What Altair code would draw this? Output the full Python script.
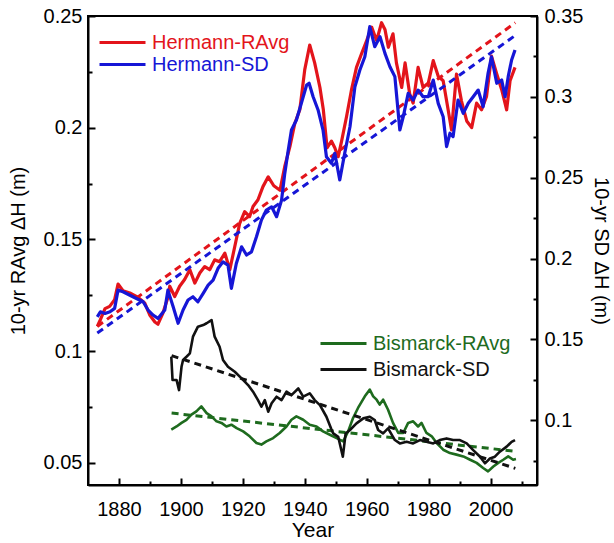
import altair as alt
import pandas as pd

FONT = "Liberation Sans"

# ---------------- data ----------------
h_ravg_year = [1873.0, 1874.0, 1875.5, 1877.0, 1878.6, 1879.7, 1881.3, 1883.5, 1886.2, 1888.3,
               1890.0, 1891.6, 1892.6, 1894.2, 1895.8, 1896.4, 1898.0, 1899.6, 1901.2, 1902.9,
               1904.5, 1906.1, 1907.7, 1909.3, 1910.9, 1912.5, 1914.2, 1915.8, 1917.4, 1919.0,
               1920.6, 1922.2, 1923.3, 1924.9, 1926.5, 1928.2, 1930.0, 1932.0, 1933.6, 1935.2,
               1936.8, 1938.4, 1940.0, 1941.6, 1943.2, 1944.9, 1946.0, 1947.2, 1948.6, 1949.7,
               1950.8, 1951.9, 1953.5, 1955.1, 1956.7, 1958.3, 1960.0, 1961.6, 1963.2, 1964.8,
               1965.9, 1967.0, 1968.5, 1969.6, 1971.3, 1972.4, 1973.9, 1975.0, 1976.6, 1978.2,
               1979.9, 1981.5, 1983.1, 1984.7, 1986.3, 1987.4, 1989.0, 1990.6, 1992.3, 1993.9,
               1995.5, 1997.1, 1998.7, 2000.3, 2002.0, 2003.6, 2005.2, 2006.3, 2007.9]
h_ravg_val = [0.111, 0.114, 0.119, 0.120, 0.123, 0.130, 0.127, 0.126, 0.124, 0.1215,
              0.116, 0.113, 0.112, 0.117, 0.124, 0.129, 0.1244, 0.129, 0.132, 0.1364,
              0.1304, 0.1349, 0.1378, 0.1364, 0.1408, 0.140, 0.1438, 0.1364, 0.1468, 0.1572,
              0.1624, 0.1602, 0.1647, 0.1677, 0.1736, 0.178, 0.174, 0.172, 0.183, 0.1915,
              0.202, 0.208, 0.226, 0.237, 0.229, 0.218, 0.208, 0.191, 0.194, 0.191,
              0.187, 0.194, 0.205, 0.217, 0.227, 0.233, 0.239, 0.245, 0.239, 0.247,
              0.244, 0.236, 0.242, 0.229, 0.218, 0.229, 0.215, 0.211, 0.227, 0.218,
              0.220, 0.230, 0.223, 0.221, 0.208, 0.199, 0.224, 0.212, 0.203, 0.200,
              0.211, 0.208, 0.214, 0.232, 0.224, 0.217, 0.208, 0.221, 0.227]

h_sd_year = [1873.0, 1874.0, 1875.5, 1877.1, 1878.6, 1879.7, 1881.3, 1884.5, 1887.8, 1889.4,
             1891.0, 1892.6, 1894.8, 1895.8, 1897.5, 1899.1, 1900.7, 1902.3, 1903.9, 1905.5,
             1907.2, 1908.8, 1910.4, 1912.0, 1913.6, 1915.2, 1916.3, 1917.9, 1919.6, 1921.2,
             1922.8, 1924.4, 1926.0, 1927.6, 1929.3, 1930.9, 1932.5, 1933.5, 1934.5, 1935.7,
             1937.3, 1938.9, 1940.6, 1941.4, 1942.7, 1944.3, 1945.9, 1947.0, 1948.6, 1949.7,
             1951.3, 1952.9, 1954.6, 1956.2, 1957.8, 1959.4, 1961.0, 1962.6, 1964.3, 1965.9,
             1967.5, 1969.1, 1970.7, 1971.8, 1973.4, 1975.0, 1976.6, 1978.2, 1979.9, 1981.5,
             1983.1, 1984.7, 1985.8, 1986.9, 1987.9, 1989.5, 1991.2, 1992.8, 1994.4, 1996.0,
             1997.6, 1999.2, 2000.3, 2002.0, 2003.6, 2004.7, 2005.7, 2006.8, 2007.9]
h_sd_val = [0.164, 0.1671, 0.1661, 0.1671, 0.1692, 0.1805, 0.1795, 0.1764, 0.1733, 0.1682,
            0.1651, 0.163, 0.1682, 0.1805, 0.1702, 0.160, 0.1682, 0.1744, 0.1764, 0.1733,
            0.1785, 0.1836, 0.1867, 0.194, 0.198, 0.196, 0.1816, 0.197, 0.2073, 0.2022,
            0.2042, 0.2135, 0.2238, 0.230, 0.232, 0.2259, 0.236, 0.252, 0.265, 0.2795,
            0.2857, 0.296, 0.3073, 0.3084, 0.3001, 0.2919, 0.2795, 0.263, 0.2589, 0.2651,
            0.2486, 0.2651, 0.2815, 0.3063, 0.3166, 0.3248, 0.3434, 0.331, 0.3372, 0.3269,
            0.3186, 0.3125, 0.2795, 0.2877, 0.3022, 0.298, 0.3042, 0.3001, 0.3001, 0.3104,
            0.296, 0.2877, 0.2692, 0.2775, 0.2754, 0.298, 0.2898, 0.296, 0.3001, 0.3042,
            0.2939, 0.3146, 0.3248, 0.3084, 0.3104, 0.3001, 0.3125, 0.3228, 0.329]

b_ravg_year = [1896.9, 1898.6, 1900.2, 1901.8, 1903.4, 1905.0, 1906.6, 1908.3, 1909.9, 1911.5,
               1913.1, 1914.7, 1916.3, 1918.0, 1920.1, 1922.2, 1924.4, 1926.0, 1927.6, 1929.8,
               1931.9, 1934.1, 1935.7, 1937.3, 1939.5, 1941.6, 1943.8, 1945.9, 1948.1, 1950.3,
               1952.4, 1954.0, 1955.6, 1957.2, 1959.4, 1961.0, 1962.1, 1963.2, 1964.2, 1965.3,
               1966.9, 1968.5, 1970.2, 1971.8, 1973.4, 1975.0, 1976.6, 1977.7, 1979.3, 1981.0,
               1982.6, 1984.7, 1986.9, 1989.0, 1991.2, 1993.4, 1995.5, 1997.6, 1999.2, 2000.9,
               2002.5, 2004.1, 2005.7, 2007.3, 2008.2]
b_ravg_val = [0.0648, 0.0662, 0.0678, 0.0692, 0.0715, 0.0730, 0.0752, 0.0722, 0.0707, 0.0685,
              0.0678, 0.0662, 0.0670, 0.0655, 0.0640, 0.0618, 0.0588, 0.0581, 0.0595, 0.0610,
              0.0633, 0.0662, 0.0692, 0.0707, 0.0692, 0.0670, 0.0662, 0.0640, 0.0625, 0.0610,
              0.0595, 0.0640, 0.0700, 0.0745, 0.0797, 0.0827, 0.0797, 0.0782, 0.0760, 0.0782,
              0.0737, 0.0678, 0.0633, 0.0633, 0.0678, 0.0685, 0.0662, 0.0678, 0.0633, 0.0618,
              0.0588, 0.0558, 0.0543, 0.0536, 0.0528, 0.0513, 0.0499, 0.0476, 0.0461, 0.0483,
              0.0499, 0.0513, 0.0528, 0.0513, 0.0516]

b_sd_year = [1896.9, 1897.3, 1898.6, 1899.4, 1900.2, 1900.7, 1901.8, 1902.9, 1903.9, 1905.5,
             1907.2, 1908.3, 1909.9, 1910.9, 1912.5, 1913.6, 1915.2, 1917.4, 1919.6, 1921.7,
             1923.3, 1924.9, 1926.0, 1927.1, 1928.2, 1929.3, 1930.9, 1932.5, 1934.1, 1935.7,
             1937.9, 1939.5, 1941.6, 1943.2, 1944.9, 1947.0, 1948.5, 1949.2, 1950.8, 1952.3,
             1953.2, 1954.6, 1956.7, 1958.9, 1961.0, 1962.6, 1963.7, 1965.3, 1966.9, 1969.1,
             1970.7, 1972.9, 1975.0, 1977.2, 1979.3, 1981.5, 1983.6, 1985.8, 1987.9, 1990.1,
             1992.3, 1994.4, 1996.6, 1998.2, 1999.8, 2001.4, 2003.0, 2005.2, 2006.8, 2007.9]
b_sd_val = [0.1393, 0.1249, 0.1249, 0.1187, 0.1331, 0.1373, 0.1393, 0.1414, 0.1517, 0.1579,
            0.1589, 0.160, 0.162, 0.1517, 0.1455, 0.1373, 0.1331, 0.130, 0.1259, 0.1218,
            0.1177, 0.1125, 0.1084, 0.1125, 0.1053, 0.1105, 0.1146, 0.1125, 0.1177, 0.1156,
            0.1197, 0.1146, 0.1167, 0.1125, 0.1094, 0.1022, 0.095, 0.0919, 0.0898, 0.0775,
            0.0919, 0.094, 0.0981, 0.1012, 0.1022, 0.1002, 0.094, 0.0919, 0.095, 0.0878,
            0.0857, 0.0867, 0.0857, 0.0878, 0.0867, 0.0857, 0.0878, 0.0888, 0.0878, 0.0878,
            0.0857, 0.0816, 0.0775, 0.0734, 0.0764, 0.0775, 0.0806, 0.0837, 0.0867, 0.0878]

# linear trend end points (year, value)
h_ravg_trend_year = [1873, 2008]
h_ravg_trend_val = [0.111, 0.247]
h_sd_trend_year = [1873, 2008]
h_sd_trend_val = [0.154, 0.338]
b_ravg_trend_year = [1897, 2008]
b_ravg_trend_val = [0.0722, 0.0551]
b_sd_trend_year = [1897, 2008]
b_sd_trend_val = [0.140, 0.0703]

x_ticks = [1880, 1890, 1900, 1910, 1920, 1930, 1940, 1950, 1960, 1970, 1980, 1990, 2000, 2010]
left_ticks = [0.05, 0.075, 0.1, 0.125, 0.15, 0.175, 0.2, 0.225, 0.25]
right_ticks = [0.075, 0.1, 0.125, 0.15, 0.175, 0.2, 0.225, 0.25, 0.275, 0.3, 0.325, 0.35]

RED = "#e3141b"
BLUE = "#1616d6"
GREEN = "#1e6b1e"
BLACK = "#111111"


def df(years, vals, name):
    return pd.DataFrame({"year": years, "val": vals, "series": name})


x_axis = alt.Axis(
    values=x_ticks, format="d",
    labelExpr="datum.value % 20 == 0 ? datum.label : ''",
    tickSize=alt.ExprRef(expr="datum.value % 20 == 0 ? -7 : -4"),
    tickWidth=2, tickColor="black", domainColor="black", domainWidth=2,
    labelFont=FONT, labelFontSize=20, labelColor="black", labelPadding=21,
    titleFont=FONT, titleFontSize=21, titleFontWeight="normal", titleColor="black",
    titleY=45, titleBaseline="middle", grid=False,
)


def x_enc():
    return alt.X("year:Q", scale=alt.Scale(domain=[1870, 2015], nice=False, zero=False),
                 axis=x_axis, title="Year")


left_axis = alt.Axis(
    orient="left", values=left_ticks, format="~g",
    labelExpr="round(datum.value*40) % 2 == 0 ? datum.label : ''",
    tickSize=alt.ExprRef(expr="round(datum.value*40) % 2 == 0 ? -7 : -4"),
    tickWidth=2, tickColor="black", domainColor="black", domainWidth=2,
    labelFont=FONT, labelFontSize=20, labelColor="black", labelPadding=13,
    titleFont=FONT, titleFontSize=20, titleFontWeight="normal", titleColor="black",
    titleX=-70, titleBaseline="middle", grid=False,
)

right_axis = alt.Axis(
    orient="right", values=right_ticks, format="~g",
    labelExpr="round(datum.value*40) % 2 == 0 ? datum.label : ''",
    tickSize=alt.ExprRef(expr="round(datum.value*40) % 2 == 0 ? -7 : -4"),
    tickWidth=2, tickColor="black", domainColor="black", domainWidth=2,
    labelFont=FONT, labelFontSize=20, labelColor="black", labelPadding=14,
    titleFont=FONT, titleFontSize=20, titleFontWeight="normal", titleColor="black",
    titleX=63, titleBaseline="middle", grid=False,
)


def y_left():
    return alt.Y("val:Q", scale=alt.Scale(domain=[0.04, 0.25], nice=False, zero=False),
                 axis=left_axis, title="10-yr RAvg ΔH (m)")


def y_right():
    return alt.Y("val:Q", scale=alt.Scale(domain=[0.06, 0.35], nice=False, zero=False),
                 axis=right_axis, title="10-yr SD ΔH (m)")


def series_line(data, y, name, col, width, lx, ly):
    return alt.Chart(data).mark_line(strokeWidth=width, strokeJoin="round").encode(
        x=x_enc(), y=y,
        color=alt.Color("series:N",
                        scale=alt.Scale(domain=[name], range=[col]),
                        legend=alt.Legend(orient="none", legendX=lx, legendY=ly, title=None,
                                          labelColor=col, labelFont=FONT, labelFontSize=20,
                                          symbolType="stroke", symbolSize=2116,
                                          symbolStrokeWidth=3, labelOffset=5, padding=0)),
    )


def trend_line(data, y, col):
    return alt.Chart(data).mark_line(strokeWidth=3, strokeDash=[7, 5]).encode(
        x=x_enc(), y=y, color=alt.value(col))


ravg = alt.layer(
    series_line(df(h_ravg_year, h_ravg_val, "Hermann-RAvg"), y_left(), "Hermann-RAvg", RED, 3.2, 10, 2),
    series_line(df(b_ravg_year, b_ravg_val, "Bismarck-RAvg"), y_left(), "Bismarck-RAvg", GREEN, 2.6, 231, 303),
    trend_line(df(h_ravg_trend_year, h_ravg_trend_val, "t1"), y_left(), RED),
    trend_line(df(b_ravg_trend_year, b_ravg_trend_val, "t3"), y_left(), GREEN),
).resolve_scale(color="independent")

sd = alt.layer(
    series_line(df(h_sd_year, h_sd_val, "Hermann-SD"), y_right(), "Hermann-SD", BLUE, 3.2, 10, 24),
    series_line(df(b_sd_year, b_sd_val, "Bismarck-SD"), y_right(), "Bismarck-SD", BLACK, 2.6, 231, 329),
    trend_line(df(h_sd_trend_year, h_sd_trend_val, "t2"), y_right(), BLUE),
    trend_line(df(b_sd_trend_year, b_sd_trend_val, "t4"), y_right(), BLACK),
).resolve_scale(color="independent")

chart = alt.layer(ravg, sd).resolve_scale(y="independent", color="independent").properties(
    width=449, height=469,
    padding={"left": 88, "top": 16, "right": 77, "bottom": 58},
    autosize=alt.AutoSizeParams(type="none"),
    background="white",
).configure_view(stroke="black", strokeWidth=2)

chart.save("out.html", embed_options={"renderer": "svg", "actions": False})
